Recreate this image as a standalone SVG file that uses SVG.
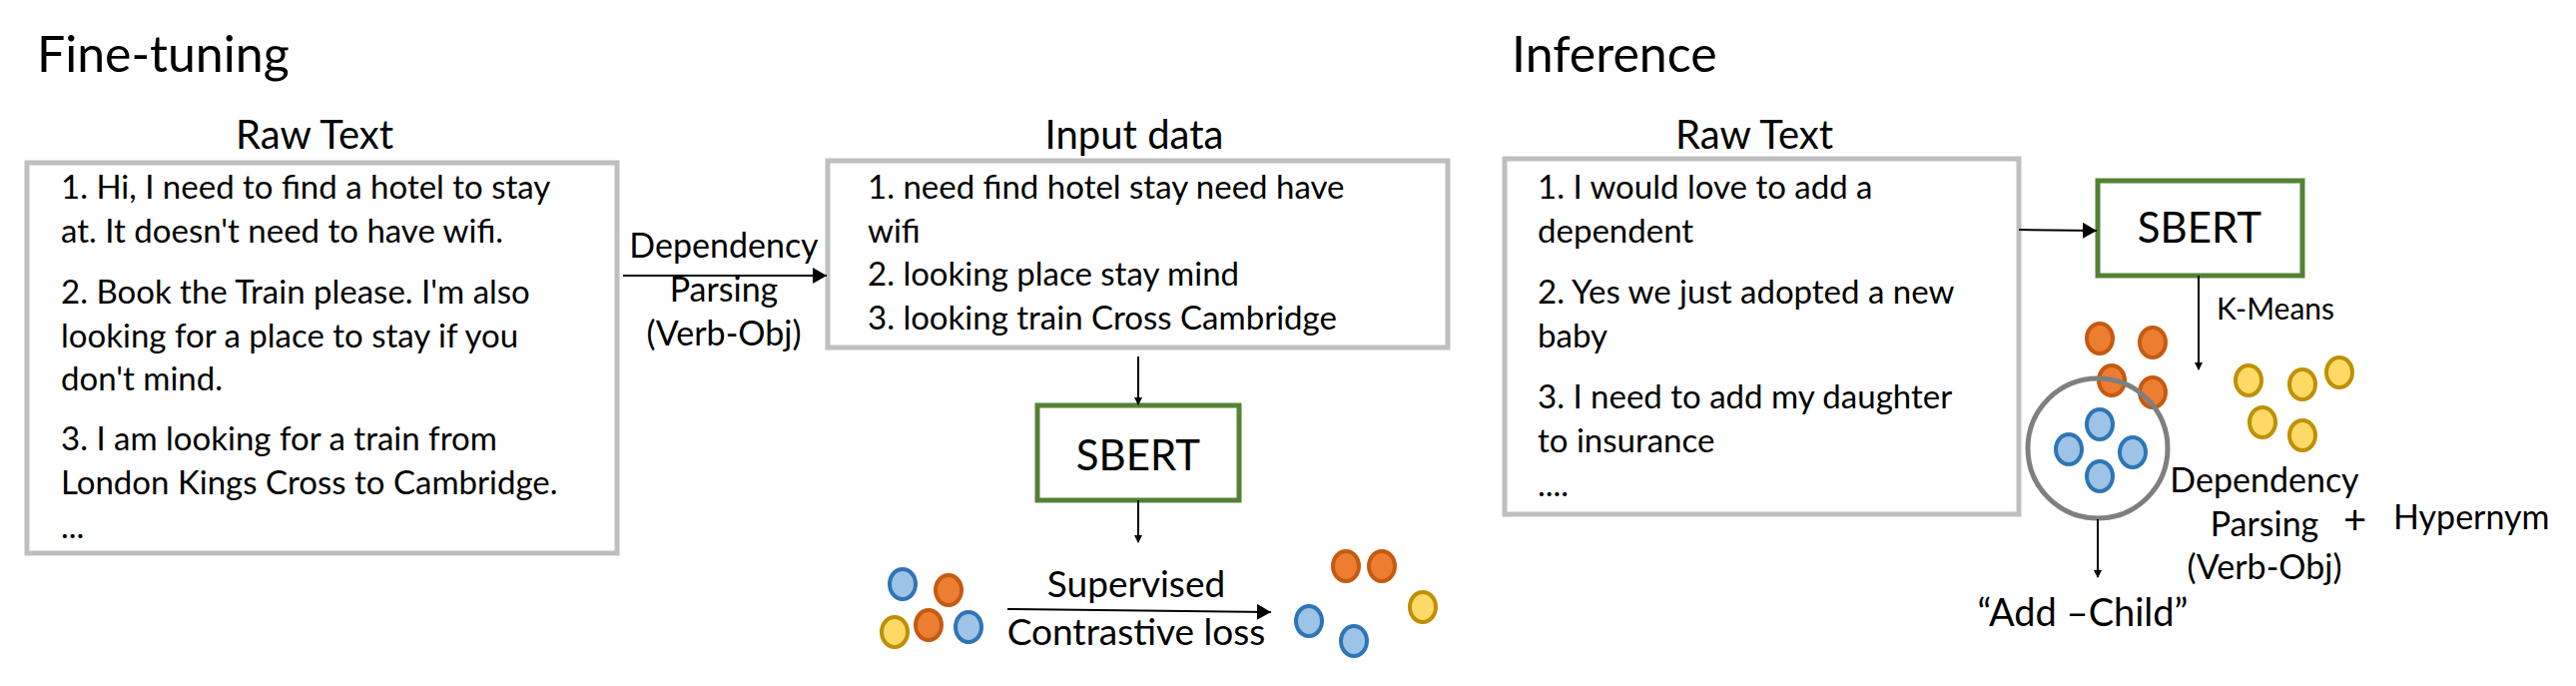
<svg xmlns="http://www.w3.org/2000/svg" width="2580" height="687" viewBox="0 0 2580 687">
<style>
text{font-family:Lato,"Liberation Sans",sans-serif;fill:#000}
.t{font-size:50px}.h{font-size:40px;text-anchor:middle}.b{font-size:33px}.m{font-size:34px;text-anchor:middle}
.box{fill:#fff;stroke:#bfbfbf;stroke-width:5}
.sb{fill:#fff;stroke:#548235;stroke-width:5}
.ln{stroke:#000;stroke-width:2;fill:none}
.bl{fill:#9dc3e6;stroke:#2e75b6;stroke-width:4}
.or{fill:#ed7d31;stroke:#c55a11;stroke-width:4}
.ye{fill:#ffd966;stroke:#bf9000;stroke-width:4}
</style>
<defs><marker id="a" markerWidth="8" markerHeight="8" refX="7" refY="4" orient="auto" markerUnits="userSpaceOnUse" viewBox="0 0 8 8"><path d="M0,0L8,4L0,8z"/></marker>
<marker id="A" markerWidth="14" markerHeight="16" refX="14" refY="8" orient="auto" markerUnits="userSpaceOnUse"><path d="M0,0L14,8L0,16z"/></marker></defs>
<text class="t" x="37" y="72">Fine-tuning</text>
<text class="t" x="1514" y="72">Inference</text>
<g id="raw1"><text class="h" x="315" y="149">Raw Text</text>
<rect class="box" x="27" y="163" width="591" height="391"/>
<text class="b" x="61" y="199">1. Hi, I need to find a hotel to stay</text>
<text class="b" x="61" y="243">at. It doesn't need to have wifi.</text>
<text class="b" x="61" y="304">2. Book the Train please. I'm also</text>
<text class="b" x="61" y="348">looking for a place to stay if you</text>
<text class="b" x="61" y="391">don't mind.</text>
<text class="b" x="61" y="451">3. I am looking for a train from</text>
<text class="b" x="61" y="495">London Kings Cross to Cambridge.</text>
<text class="b" x="61" y="539">...</text></g>
<g id="input"><text class="h" x="1136" y="149">Input data</text>
<rect class="box" x="829" y="161" width="621" height="187"/>
<text class="b" x="869" y="199">1. need find hotel stay need have</text>
<text class="b" x="869" y="243">wifi</text>
<text class="b" x="869" y="286">2. looking place stay mind</text>
<text class="b" x="869" y="330">3. looking train Cross Cambridge</text></g>
<g id="sbert1"><rect class="sb" x="1039" y="406" width="202" height="95"/><text class="h" x="1140" y="471" style="font-size:42px">SBERT</text></g>
<g id="clusters1">
<ellipse class="bl" cx="904" cy="585" rx="13" ry="15"/><ellipse class="or" cx="950" cy="591" rx="13" ry="15"/>
<ellipse class="ye" cx="896" cy="633" rx="13" ry="15"/><ellipse class="or" cx="930" cy="626" rx="13" ry="15"/><ellipse class="bl" cx="970" cy="628" rx="13" ry="15"/>
<ellipse class="or" cx="1348" cy="567" rx="13" ry="15"/><ellipse class="or" cx="1384" cy="567" rx="13" ry="15"/><ellipse class="ye" cx="1425" cy="608" rx="13" ry="15"/>
<ellipse class="bl" cx="1311" cy="622" rx="13" ry="15"/><ellipse class="bl" cx="1356" cy="642" rx="13" ry="15"/></g>
<g id="raw2"><text class="h" x="1757" y="149">Raw Text</text>
<rect class="box" x="1507" y="159" width="515" height="356"/>
<text class="b" x="1540" y="199">1. I would love to add a</text>
<text class="b" x="1540" y="243">dependent</text>
<text class="b" x="1540" y="304">2. Yes we just adopted a new</text>
<text class="b" x="1540" y="348">baby</text>
<text class="b" x="1540" y="409">3. I need to add my daughter</text>
<text class="b" x="1540" y="453">to insurance</text>
<text class="b" x="1540" y="497">....</text></g>
<g id="sbert2"><rect class="sb" x="2101" y="181" width="205" height="95"/><text class="h" x="2203" y="243" style="font-size:42px">SBERT</text></g>
<g id="clusters2">
<ellipse class="or" cx="2103" cy="339" rx="13" ry="15"/><ellipse class="or" cx="2156" cy="343" rx="13" ry="15"/>
<ellipse class="or" cx="2115" cy="381" rx="13" ry="15"/><ellipse class="or" cx="2156" cy="393" rx="13" ry="15"/>
<circle cx="2101" cy="449" r="70" fill="none" stroke="#7f7f7f" stroke-width="5"/>
<ellipse class="bl" cx="2103" cy="425" rx="13" ry="15"/><ellipse class="bl" cx="2072" cy="450" rx="13" ry="15"/>
<ellipse class="bl" cx="2136" cy="453" rx="13" ry="15"/><ellipse class="bl" cx="2103" cy="477" rx="13" ry="15"/>
<ellipse class="ye" cx="2252" cy="381" rx="13" ry="15"/><ellipse class="ye" cx="2306" cy="385" rx="13" ry="15"/>
<ellipse class="ye" cx="2343" cy="373" rx="13" ry="15"/><ellipse class="ye" cx="2266" cy="423" rx="13" ry="15"/>
<ellipse class="ye" cx="2306" cy="436" rx="13" ry="15"/></g>
<g id="connectors">
<line class="ln" x1="624" y1="276" x2="828" y2="276" marker-end="url(#A)"/>
<line class="ln" x1="1140" y1="357" x2="1140" y2="405" marker-end="url(#a)"/>
<line class="ln" x1="1140" y1="501" x2="1140" y2="543" marker-end="url(#a)"/>
<line class="ln" x1="1009" y1="610" x2="1273" y2="613" marker-end="url(#A)"/>
<line class="ln" x1="2022" y1="230" x2="2100" y2="231" marker-end="url(#A)"/>
<line class="ln" x1="2202" y1="276" x2="2202" y2="370" marker-end="url(#a)"/>
<line class="ln" x1="2101" y1="520" x2="2101" y2="578" marker-end="url(#a)"/>
</g>
<g id="labels">
<text class="m" x="725" y="258">Dependency</text><text class="m" x="725" y="302">Parsing</text><text class="m" x="725" y="346">(Verb-Obj)</text>
<text class="h" x="1138" y="598" style="font-size:37px">Supervised</text><text class="h" x="1138" y="646" style="font-size:37px">Contrastive loss</text>
<text x="2220" y="320" style="font-size:30px">K-Means</text>
<text class="m" x="2268" y="493">Dependency</text><text class="m" x="2268" y="537">Parsing</text><text class="m" x="2268" y="580">(Verb-Obj)</text>
<text x="2347" y="535" style="font-size:40px">+</text>
<text x="2397" y="530" style="font-size:34px">Hypernym</text>
<text class="m" x="2086" y="627" style="font-size:38px">“Add –Child”</text>
</g>
</svg>
